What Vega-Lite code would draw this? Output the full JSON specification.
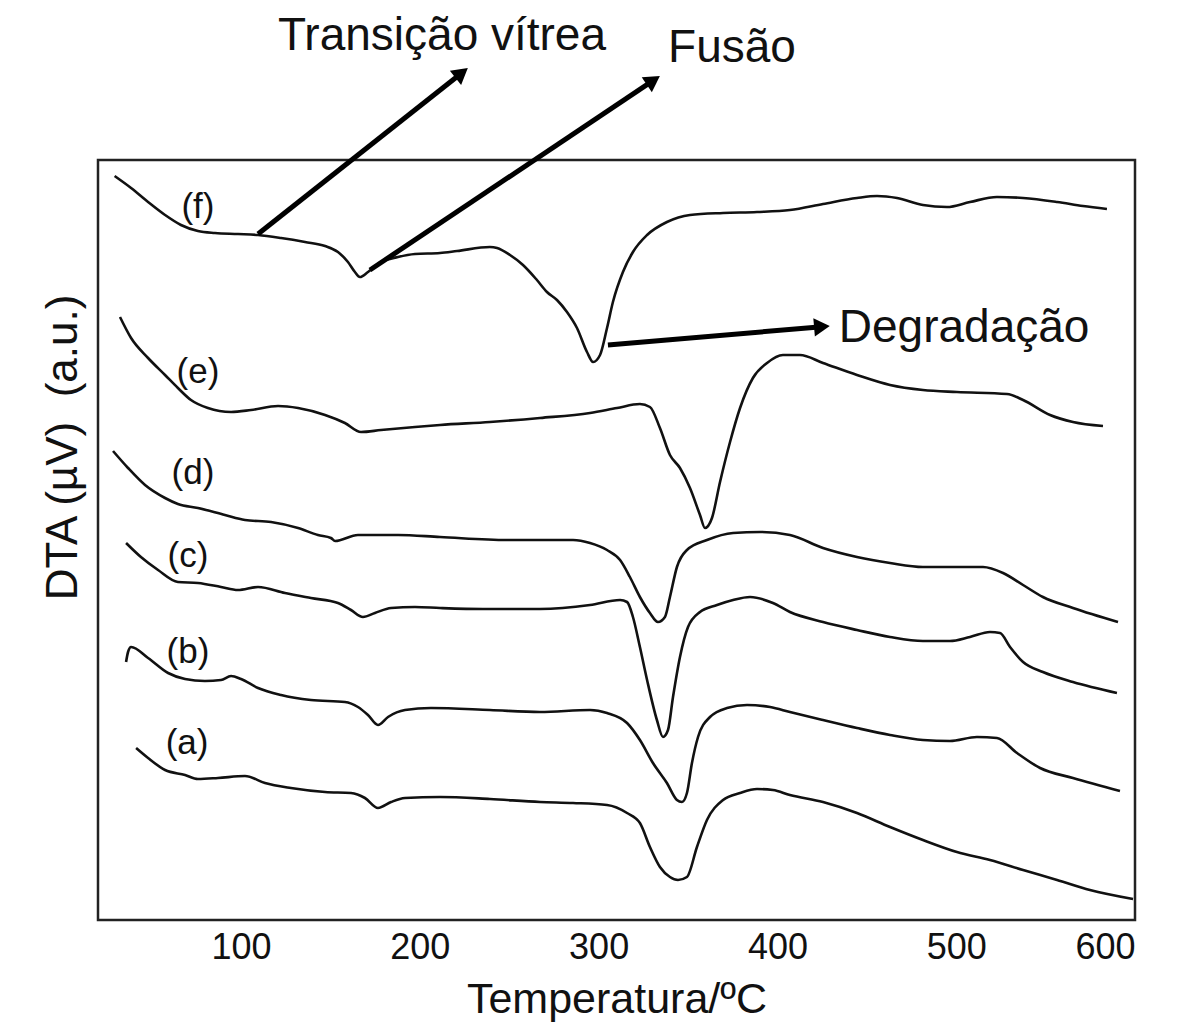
{
  "$schema": "https://vega.github.io/schema/vega-lite/v6.json",
  "width": 1037,
  "height": 760,
  "autosize": {"type": "none"},
  "padding": {"left": 98, "top": 160, "right": 44, "bottom": 103},
  "background": "white",
  "config": {
    "font": "Liberation Sans",
    "view": {"stroke": "#222", "strokeWidth": 2.5}
  },
  "datasets": {
    "curvas": [
      {"amostra": "f", "T": 29.3, "DTA": 74.4}, {"amostra": "f", "T": 38.5, "DTA": 73.2}, {"amostra": "f", "T": 48.0, "DTA": 71.8},
      {"amostra": "f", "T": 57.5, "DTA": 70.5}, {"amostra": "f", "T": 66.4, "DTA": 69.5}, {"amostra": "f", "T": 75.9, "DTA": 68.9},
      {"amostra": "f", "T": 85.4, "DTA": 68.7}, {"amostra": "f", "T": 98.3, "DTA": 68.6}, {"amostra": "f", "T": 109.5, "DTA": 68.5},
      {"amostra": "f", "T": 122.4, "DTA": 68.2}, {"amostra": "f", "T": 135.8, "DTA": 67.8}, {"amostra": "f", "T": 147.0, "DTA": 67.4},
      {"amostra": "f", "T": 154.2, "DTA": 66.8}, {"amostra": "f", "T": 159.8, "DTA": 65.8}, {"amostra": "f", "T": 163.7, "DTA": 64.8},
      {"amostra": "f", "T": 166.5, "DTA": 64.3}, {"amostra": "f", "T": 171.0, "DTA": 64.8}, {"amostra": "f", "T": 178.3, "DTA": 65.8},
      {"amostra": "f", "T": 187.8, "DTA": 66.3}, {"amostra": "f", "T": 197.3, "DTA": 66.6}, {"amostra": "f", "T": 211.3, "DTA": 66.7},
      {"amostra": "f", "T": 220.8, "DTA": 66.9}, {"amostra": "f", "T": 239.2, "DTA": 67.3}, {"amostra": "f", "T": 243.2, "DTA": 67.2},
      {"amostra": "f", "T": 250.4, "DTA": 66.5}, {"amostra": "f", "T": 257.7, "DTA": 65.5}, {"amostra": "f", "T": 265.5, "DTA": 64.0},
      {"amostra": "f", "T": 271.1, "DTA": 62.8}, {"amostra": "f", "T": 276.7, "DTA": 62.0}, {"amostra": "f", "T": 282.3, "DTA": 60.8},
      {"amostra": "f", "T": 287.9, "DTA": 59.2}, {"amostra": "f", "T": 293.5, "DTA": 56.8}, {"amostra": "f", "T": 296.9, "DTA": 55.8},
      {"amostra": "f", "T": 300.8, "DTA": 56.5}, {"amostra": "f", "T": 304.7, "DTA": 59.2}, {"amostra": "f", "T": 308.0, "DTA": 61.8},
      {"amostra": "f", "T": 313.6, "DTA": 64.8}, {"amostra": "f", "T": 319.2, "DTA": 66.8}, {"amostra": "f", "T": 327.1, "DTA": 68.5},
      {"amostra": "f", "T": 338.2, "DTA": 69.8}, {"amostra": "f", "T": 351.1, "DTA": 70.5}, {"amostra": "f", "T": 369.6, "DTA": 70.7},
      {"amostra": "f", "T": 388.6, "DTA": 70.8}, {"amostra": "f", "T": 407.0, "DTA": 71.0}, {"amostra": "f", "T": 425.5, "DTA": 71.6},
      {"amostra": "f", "T": 444.5, "DTA": 72.2}, {"amostra": "f", "T": 455.7, "DTA": 72.4}, {"amostra": "f", "T": 466.9, "DTA": 72.2},
      {"amostra": "f", "T": 481.4, "DTA": 71.5}, {"amostra": "f", "T": 494.8, "DTA": 71.3}, {"amostra": "f", "T": 507.7, "DTA": 71.8},
      {"amostra": "f", "T": 522.8, "DTA": 72.3}, {"amostra": "f", "T": 537.4, "DTA": 72.2}, {"amostra": "f", "T": 556.4, "DTA": 71.8},
      {"amostra": "f", "T": 570.9, "DTA": 71.4}, {"amostra": "f", "T": 584.3, "DTA": 71.1},

      {"amostra": "e", "T": 32.3, "DTA": 60.3}, {"amostra": "e", "T": 38.5, "DTA": 58.2}, {"amostra": "e", "T": 48.0, "DTA": 56.2},
      {"amostra": "e", "T": 57.5, "DTA": 54.5}, {"amostra": "e", "T": 64.7, "DTA": 53.2}, {"amostra": "e", "T": 72.0, "DTA": 52.0},
      {"amostra": "e", "T": 81.5, "DTA": 51.2}, {"amostra": "e", "T": 94.4, "DTA": 50.8}, {"amostra": "e", "T": 105.6, "DTA": 51.0},
      {"amostra": "e", "T": 120.7, "DTA": 51.4}, {"amostra": "e", "T": 131.9, "DTA": 51.2}, {"amostra": "e", "T": 147.0, "DTA": 50.5},
      {"amostra": "e", "T": 158.1, "DTA": 49.7}, {"amostra": "e", "T": 167.1, "DTA": 48.8}, {"amostra": "e", "T": 178.3, "DTA": 49.0},
      {"amostra": "e", "T": 197.3, "DTA": 49.3}, {"amostra": "e", "T": 211.3, "DTA": 49.5}, {"amostra": "e", "T": 239.2, "DTA": 49.8},
      {"amostra": "e", "T": 267.2, "DTA": 50.2}, {"amostra": "e", "T": 295.2, "DTA": 50.7}, {"amostra": "e", "T": 310.3, "DTA": 51.2},
      {"amostra": "e", "T": 323.1, "DTA": 51.6}, {"amostra": "e", "T": 328.7, "DTA": 51.3}, {"amostra": "e", "T": 334.3, "DTA": 49.2},
      {"amostra": "e", "T": 339.9, "DTA": 46.5}, {"amostra": "e", "T": 345.5, "DTA": 45.2}, {"amostra": "e", "T": 351.1, "DTA": 43.2},
      {"amostra": "e", "T": 356.7, "DTA": 40.5}, {"amostra": "e", "T": 359.5, "DTA": 39.2}, {"amostra": "e", "T": 363.4, "DTA": 40.2},
      {"amostra": "e", "T": 367.9, "DTA": 43.8}, {"amostra": "e", "T": 373.5, "DTA": 47.8}, {"amostra": "e", "T": 379.1, "DTA": 51.2},
      {"amostra": "e", "T": 386.3, "DTA": 54.2}, {"amostra": "e", "T": 394.2, "DTA": 55.7}, {"amostra": "e", "T": 403.1, "DTA": 56.5},
      {"amostra": "e", "T": 412.6, "DTA": 56.5}, {"amostra": "e", "T": 425.5, "DTA": 55.7}, {"amostra": "e", "T": 444.5, "DTA": 54.5},
      {"amostra": "e", "T": 463.0, "DTA": 53.5}, {"amostra": "e", "T": 481.4, "DTA": 53.0}, {"amostra": "e", "T": 500.4, "DTA": 52.8},
      {"amostra": "e", "T": 528.4, "DTA": 52.6}, {"amostra": "e", "T": 537.4, "DTA": 52.0}, {"amostra": "e", "T": 552.5, "DTA": 50.5},
      {"amostra": "e", "T": 565.3, "DTA": 49.8}, {"amostra": "e", "T": 582.1, "DTA": 49.4},

      {"amostra": "d", "T": 28.4, "DTA": 46.9}, {"amostra": "d", "T": 36.8, "DTA": 45.2}, {"amostra": "d", "T": 46.3, "DTA": 43.5},
      {"amostra": "d", "T": 57.5, "DTA": 42.2}, {"amostra": "d", "T": 64.7, "DTA": 41.6}, {"amostra": "d", "T": 75.9, "DTA": 41.2},
      {"amostra": "d", "T": 91.0, "DTA": 40.5}, {"amostra": "d", "T": 102.2, "DTA": 40.0}, {"amostra": "d", "T": 116.8, "DTA": 39.8},
      {"amostra": "d", "T": 131.9, "DTA": 39.2}, {"amostra": "d", "T": 143.0, "DTA": 38.5}, {"amostra": "d", "T": 150.3, "DTA": 38.2},
      {"amostra": "d", "T": 152.6, "DTA": 37.9}, {"amostra": "d", "T": 165.4, "DTA": 38.5}, {"amostra": "d", "T": 187.8, "DTA": 38.5},
      {"amostra": "d", "T": 211.3, "DTA": 38.3}, {"amostra": "d", "T": 248.8, "DTA": 38.0}, {"amostra": "d", "T": 285.7, "DTA": 38.0},
      {"amostra": "d", "T": 295.2, "DTA": 37.7}, {"amostra": "d", "T": 304.7, "DTA": 37.0}, {"amostra": "d", "T": 312.0, "DTA": 36.0},
      {"amostra": "d", "T": 317.5, "DTA": 34.3}, {"amostra": "d", "T": 323.1, "DTA": 32.3}, {"amostra": "d", "T": 328.7, "DTA": 30.7},
      {"amostra": "d", "T": 333.2, "DTA": 29.8}, {"amostra": "d", "T": 337.1, "DTA": 30.3}, {"amostra": "d", "T": 339.9, "DTA": 32.3},
      {"amostra": "d", "T": 343.8, "DTA": 35.3}, {"amostra": "d", "T": 349.4, "DTA": 37.0}, {"amostra": "d", "T": 360.6, "DTA": 38.0},
      {"amostra": "d", "T": 375.2, "DTA": 38.7}, {"amostra": "d", "T": 390.3, "DTA": 38.8}, {"amostra": "d", "T": 407.0, "DTA": 38.5},
      {"amostra": "d", "T": 425.5, "DTA": 37.2}, {"amostra": "d", "T": 444.5, "DTA": 36.3}, {"amostra": "d", "T": 463.0, "DTA": 35.7},
      {"amostra": "d", "T": 481.4, "DTA": 35.3}, {"amostra": "d", "T": 500.4, "DTA": 35.3}, {"amostra": "d", "T": 515.0, "DTA": 35.3},
      {"amostra": "d", "T": 526.2, "DTA": 34.7}, {"amostra": "d", "T": 537.4, "DTA": 33.5}, {"amostra": "d", "T": 548.5, "DTA": 32.3},
      {"amostra": "d", "T": 565.3, "DTA": 31.2}, {"amostra": "d", "T": 590.5, "DTA": 29.8},

      {"amostra": "c", "T": 35.7, "DTA": 37.7}, {"amostra": "c", "T": 44.0, "DTA": 36.3}, {"amostra": "c", "T": 53.6, "DTA": 35.0},
      {"amostra": "c", "T": 64.7, "DTA": 33.8}, {"amostra": "c", "T": 75.9, "DTA": 33.7}, {"amostra": "c", "T": 88.8, "DTA": 33.3},
      {"amostra": "c", "T": 98.3, "DTA": 33.0}, {"amostra": "c", "T": 109.5, "DTA": 33.3}, {"amostra": "c", "T": 124.6, "DTA": 32.7},
      {"amostra": "c", "T": 139.1, "DTA": 32.2}, {"amostra": "c", "T": 154.2, "DTA": 31.7}, {"amostra": "c", "T": 161.5, "DTA": 31.0},
      {"amostra": "c", "T": 168.2, "DTA": 30.3}, {"amostra": "c", "T": 174.9, "DTA": 30.7}, {"amostra": "c", "T": 183.9, "DTA": 31.2},
      {"amostra": "c", "T": 197.3, "DTA": 31.3}, {"amostra": "c", "T": 211.3, "DTA": 31.2}, {"amostra": "c", "T": 235.3, "DTA": 31.1},
      {"amostra": "c", "T": 267.2, "DTA": 31.1}, {"amostra": "c", "T": 295.2, "DTA": 31.5}, {"amostra": "c", "T": 312.0, "DTA": 32.0},
      {"amostra": "c", "T": 315.9, "DTA": 31.8}, {"amostra": "c", "T": 319.2, "DTA": 30.3}, {"amostra": "c", "T": 323.1, "DTA": 27.3},
      {"amostra": "c", "T": 327.1, "DTA": 24.0}, {"amostra": "c", "T": 332.6, "DTA": 20.0}, {"amostra": "c", "T": 336.0, "DTA": 18.3},
      {"amostra": "c", "T": 338.8, "DTA": 19.0}, {"amostra": "c", "T": 341.6, "DTA": 22.3}, {"amostra": "c", "T": 345.5, "DTA": 26.3},
      {"amostra": "c", "T": 350.0, "DTA": 29.3}, {"amostra": "c", "T": 356.7, "DTA": 30.8}, {"amostra": "c", "T": 366.2, "DTA": 31.5},
      {"amostra": "c", "T": 375.2, "DTA": 32.0}, {"amostra": "c", "T": 384.7, "DTA": 32.3}, {"amostra": "c", "T": 397.5, "DTA": 31.7},
      {"amostra": "c", "T": 407.0, "DTA": 30.8}, {"amostra": "c", "T": 425.5, "DTA": 29.8}, {"amostra": "c", "T": 444.5, "DTA": 29.0},
      {"amostra": "c", "T": 463.0, "DTA": 28.3}, {"amostra": "c", "T": 481.4, "DTA": 27.9}, {"amostra": "c", "T": 496.5, "DTA": 27.9},
      {"amostra": "c", "T": 507.7, "DTA": 28.3}, {"amostra": "c", "T": 518.9, "DTA": 28.8}, {"amostra": "c", "T": 524.5, "DTA": 28.7},
      {"amostra": "c", "T": 530.1, "DTA": 27.3}, {"amostra": "c", "T": 537.4, "DTA": 25.8}, {"amostra": "c", "T": 548.5, "DTA": 24.8},
      {"amostra": "c", "T": 565.3, "DTA": 23.8}, {"amostra": "c", "T": 589.9, "DTA": 22.7},

      {"amostra": "b", "T": 35.7, "DTA": 25.8}, {"amostra": "b", "T": 36.8, "DTA": 26.8}, {"amostra": "b", "T": 38.5, "DTA": 27.3},
      {"amostra": "b", "T": 48.0, "DTA": 26.2}, {"amostra": "b", "T": 59.2, "DTA": 24.7}, {"amostra": "b", "T": 68.7, "DTA": 24.1},
      {"amostra": "b", "T": 79.8, "DTA": 23.9}, {"amostra": "b", "T": 88.8, "DTA": 24.0}, {"amostra": "b", "T": 94.4, "DTA": 24.4},
      {"amostra": "b", "T": 100.0, "DTA": 24.1}, {"amostra": "b", "T": 109.5, "DTA": 23.2}, {"amostra": "b", "T": 122.4, "DTA": 22.5},
      {"amostra": "b", "T": 139.1, "DTA": 22.0}, {"amostra": "b", "T": 158.1, "DTA": 21.8}, {"amostra": "b", "T": 165.4, "DTA": 21.3},
      {"amostra": "b", "T": 171.0, "DTA": 20.5}, {"amostra": "b", "T": 176.6, "DTA": 19.5}, {"amostra": "b", "T": 182.2, "DTA": 20.3},
      {"amostra": "b", "T": 191.7, "DTA": 21.0}, {"amostra": "b", "T": 206.2, "DTA": 21.2}, {"amostra": "b", "T": 239.2, "DTA": 21.0},
      {"amostra": "b", "T": 267.2, "DTA": 20.8}, {"amostra": "b", "T": 295.2, "DTA": 21.0}, {"amostra": "b", "T": 304.7, "DTA": 20.7},
      {"amostra": "b", "T": 315.9, "DTA": 19.7}, {"amostra": "b", "T": 323.1, "DTA": 18.0}, {"amostra": "b", "T": 330.4, "DTA": 15.7},
      {"amostra": "b", "T": 338.2, "DTA": 13.7}, {"amostra": "b", "T": 343.8, "DTA": 12.0}, {"amostra": "b", "T": 346.6, "DTA": 11.8},
      {"amostra": "b", "T": 349.4, "DTA": 12.7}, {"amostra": "b", "T": 352.2, "DTA": 15.7}, {"amostra": "b", "T": 355.6, "DTA": 18.3},
      {"amostra": "b", "T": 362.3, "DTA": 20.3}, {"amostra": "b", "T": 371.8, "DTA": 21.2}, {"amostra": "b", "T": 383.0, "DTA": 21.5},
      {"amostra": "b", "T": 395.9, "DTA": 21.3}, {"amostra": "b", "T": 407.0, "DTA": 20.8}, {"amostra": "b", "T": 425.5, "DTA": 20.0},
      {"amostra": "b", "T": 444.5, "DTA": 19.2}, {"amostra": "b", "T": 463.0, "DTA": 18.5}, {"amostra": "b", "T": 481.4, "DTA": 18.0},
      {"amostra": "b", "T": 496.5, "DTA": 17.9}, {"amostra": "b", "T": 511.6, "DTA": 18.3}, {"amostra": "b", "T": 522.8, "DTA": 18.2},
      {"amostra": "b", "T": 534.0, "DTA": 16.7}, {"amostra": "b", "T": 546.9, "DTA": 15.2}, {"amostra": "b", "T": 565.3, "DTA": 14.2},
      {"amostra": "b", "T": 591.6, "DTA": 12.9},

      {"amostra": "a", "T": 41.3, "DTA": 17.2}, {"amostra": "a", "T": 48.0, "DTA": 16.2}, {"amostra": "a", "T": 57.5, "DTA": 15.0},
      {"amostra": "a", "T": 68.7, "DTA": 14.5}, {"amostra": "a", "T": 75.9, "DTA": 14.1}, {"amostra": "a", "T": 87.1, "DTA": 14.2},
      {"amostra": "a", "T": 102.2, "DTA": 14.4}, {"amostra": "a", "T": 113.4, "DTA": 13.7}, {"amostra": "a", "T": 127.9, "DTA": 13.2},
      {"amostra": "a", "T": 147.0, "DTA": 12.8}, {"amostra": "a", "T": 161.5, "DTA": 12.7}, {"amostra": "a", "T": 169.3, "DTA": 12.2},
      {"amostra": "a", "T": 176.6, "DTA": 11.2}, {"amostra": "a", "T": 183.9, "DTA": 11.8}, {"amostra": "a", "T": 191.7, "DTA": 12.2},
      {"amostra": "a", "T": 211.3, "DTA": 12.3}, {"amostra": "a", "T": 239.2, "DTA": 12.1}, {"amostra": "a", "T": 267.2, "DTA": 11.8},
      {"amostra": "a", "T": 285.7, "DTA": 11.7}, {"amostra": "a", "T": 304.7, "DTA": 11.5}, {"amostra": "a", "T": 315.9, "DTA": 10.7},
      {"amostra": "a", "T": 323.1, "DTA": 9.7}, {"amostra": "a", "T": 328.7, "DTA": 7.3}, {"amostra": "a", "T": 334.3, "DTA": 5.3},
      {"amostra": "a", "T": 339.9, "DTA": 4.3}, {"amostra": "a", "T": 344.4, "DTA": 4.0}, {"amostra": "a", "T": 349.4, "DTA": 4.3},
      {"amostra": "a", "T": 355.0, "DTA": 7.3}, {"amostra": "a", "T": 360.6, "DTA": 10.0}, {"amostra": "a", "T": 369.6, "DTA": 12.0},
      {"amostra": "a", "T": 379.1, "DTA": 12.7}, {"amostra": "a", "T": 388.6, "DTA": 13.1}, {"amostra": "a", "T": 397.5, "DTA": 13.0},
      {"amostra": "a", "T": 407.0, "DTA": 12.5}, {"amostra": "a", "T": 425.5, "DTA": 11.8}, {"amostra": "a", "T": 444.5, "DTA": 10.7},
      {"amostra": "a", "T": 463.0, "DTA": 9.3}, {"amostra": "a", "T": 481.4, "DTA": 8.0}, {"amostra": "a", "T": 500.4, "DTA": 6.8},
      {"amostra": "a", "T": 518.9, "DTA": 6.0}, {"amostra": "a", "T": 537.4, "DTA": 5.0}, {"amostra": "a", "T": 556.4, "DTA": 4.0},
      {"amostra": "a", "T": 574.8, "DTA": 3.0}, {"amostra": "a", "T": 598.9, "DTA": 2.1}
    ],
    "rotulos": [
      {"rotulo": "(f)", "T": 75.9, "DTA": 71.3},
      {"rotulo": "(e)", "T": 75.9, "DTA": 54.8},
      {"rotulo": "(d)", "T": 73.1, "DTA": 44.7},
      {"rotulo": "(c)", "T": 70.3, "DTA": 36.4},
      {"rotulo": "(b)", "T": 70.3, "DTA": 26.8},
      {"rotulo": "(a)", "T": 69.8, "DTA": 17.7}
    ],
    "eventos": [
      {"evento": "Transição vítrea", "T": 212.4, "DTA": 87.0, "T0": 109.5, "DTA0": 68.6, "T1": 223.4, "DTA1": 84.7},
      {"evento": "Fusão", "T": 374.6, "DTA": 85.8, "T0": 172.1, "DTA0": 65.0, "T1": 330.6, "DTA1": 83.96},
      {"evento": "Degradação", "T": 504.4, "DTA": 57.8, "T0": 305.2, "DTA0": 57.5, "T1": 424.9, "DTA1": 59.33}
    ]
  },
  "layer": [
    {
      "data": {"name": "curvas"},
      "mark": {"type": "line", "interpolate": "monotone", "color": "#111", "strokeWidth": 2.6},
      "encoding": {
        "x": {
          "field": "T", "type": "quantitative",
          "scale": {"domain": [20, 600], "nice": false, "zero": false},
          "axis": {
            "values": [100, 200, 300, 400, 500, 600],
            "ticks": false, "domain": false, "grid": false,
            "labelFontSize": 36, "labelPadding": 10, "labelColor": "#111",
            "title": "Temperatura/ºC", "titleFontSize": 43, "titleFontWeight": "normal",
            "titleColor": "#111", "titleBaseline": "alphabetic", "titleY": 92
          }
        },
        "y": {
          "field": "DTA", "type": "quantitative",
          "scale": {"domain": [0, 76], "nice": false, "zero": false},
          "axis": {
            "labels": false, "ticks": false, "domain": false, "grid": false,
            "title": "DTA (µV)\u00a0 (a.u.)", "titleFontSize": 44, "titleFontWeight": "normal",
            "titleColor": "#111", "titleAngle": 270, "titleBaseline": "alphabetic",
            "titleX": -22, "titleY": 287
          }
        },
        "detail": {"field": "amostra", "type": "nominal"}
      }
    },
    {
      "data": {"name": "rotulos"},
      "mark": {"type": "text", "fontSize": 35, "color": "#111", "align": "center", "baseline": "middle"},
      "encoding": {
        "x": {"field": "T", "type": "quantitative", "scale": {"domain": [20, 600], "nice": false, "zero": false}},
        "y": {"field": "DTA", "type": "quantitative", "scale": {"domain": [0, 76], "nice": false, "zero": false}},
        "text": {"field": "rotulo"}
      }
    },
    {
      "data": {"name": "eventos"},
      "mark": {"type": "rule", "color": "black", "strokeWidth": 5},
      "encoding": {
        "x": {"field": "T0", "type": "quantitative", "scale": {"domain": [20, 600], "nice": false, "zero": false}},
        "y": {"field": "DTA0", "type": "quantitative", "scale": {"domain": [0, 76], "nice": false, "zero": false}},
        "x2": {"field": "T1"},
        "y2": {"field": "DTA1"}
      }
    },
    {
      "data": {"name": "eventos"},
      "transform": [{"filter": "datum.evento === 'Transição vítrea'"}],
      "mark": {"type": "point", "shape": "triangle-up", "filled": true, "color": "black", "opacity": 1, "size": 330, "angle": 51.7},
      "encoding": {
        "x": {"field": "T1", "type": "quantitative", "scale": {"domain": [20, 600], "nice": false, "zero": false}},
        "y": {"field": "DTA1", "type": "quantitative", "scale": {"domain": [0, 76], "nice": false, "zero": false}}
      }
    },
    {
      "data": {"name": "eventos"},
      "transform": [{"filter": "datum.evento === 'Fusão'"}],
      "mark": {"type": "point", "shape": "triangle-up", "filled": true, "color": "black", "opacity": 1, "size": 330, "angle": 56.2},
      "encoding": {
        "x": {"field": "T1", "type": "quantitative", "scale": {"domain": [20, 600], "nice": false, "zero": false}},
        "y": {"field": "DTA1", "type": "quantitative", "scale": {"domain": [0, 76], "nice": false, "zero": false}}
      }
    },
    {
      "data": {"name": "eventos"},
      "transform": [{"filter": "datum.evento === 'Degradação'"}],
      "mark": {"type": "point", "shape": "triangle-up", "filled": true, "color": "black", "opacity": 1, "size": 330, "angle": 85.1},
      "encoding": {
        "x": {"field": "T1", "type": "quantitative", "scale": {"domain": [20, 600], "nice": false, "zero": false}},
        "y": {"field": "DTA1", "type": "quantitative", "scale": {"domain": [0, 76], "nice": false, "zero": false}}
      }
    },
    {
      "data": {"name": "eventos"},
      "mark": {"type": "text", "fontSize": 46, "color": "#111", "align": "center", "baseline": "alphabetic"},
      "encoding": {
        "x": {"field": "T", "type": "quantitative", "scale": {"domain": [20, 600], "nice": false, "zero": false}},
        "y": {"field": "DTA", "type": "quantitative", "scale": {"domain": [0, 76], "nice": false, "zero": false}},
        "text": {"field": "evento"}
      }
    }
  ]
}
